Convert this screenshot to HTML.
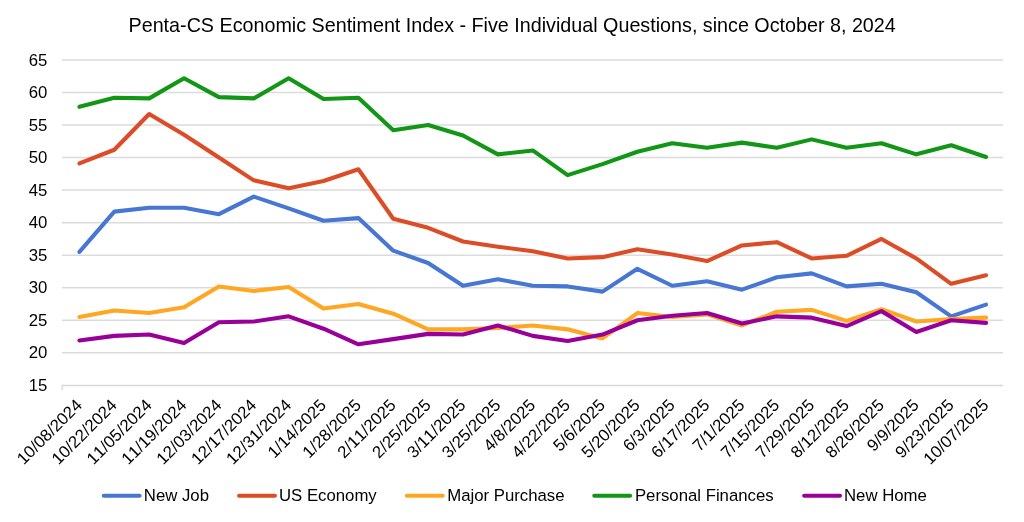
<!DOCTYPE html>
<html><head><meta charset="utf-8"><title>Penta-CS Economic Sentiment Index</title>
<style>html,body{margin:0;padding:0;background:#fff;overflow:hidden}svg{display:block;font-kerning:none}</style></head>
<body>
<svg width="1024" height="522" viewBox="0 0 1024 522" font-family="Liberation Sans, Arial, sans-serif" fill="#000">
<rect width="1024" height="522" fill="#fff"/>
<text x="512.15" y="32.4" font-size="19.73" text-anchor="middle">Penta-CS Economic Sentiment Index - Five Individual Questions, since October 8, 2024</text>
<line x1="62.0" x2="1003.1" y1="60.00" y2="60.00" stroke="#dbdbdb" stroke-width="1.5"/>
<text x="47.3" y="65.50" font-size="16.75" text-anchor="end">65</text>
<line x1="62.0" x2="1003.1" y1="92.53" y2="92.53" stroke="#dbdbdb" stroke-width="1.5"/>
<text x="47.3" y="98.03" font-size="16.75" text-anchor="end">60</text>
<line x1="62.0" x2="1003.1" y1="125.06" y2="125.06" stroke="#dbdbdb" stroke-width="1.5"/>
<text x="47.3" y="130.56" font-size="16.75" text-anchor="end">55</text>
<line x1="62.0" x2="1003.1" y1="157.59" y2="157.59" stroke="#dbdbdb" stroke-width="1.5"/>
<text x="47.3" y="163.09" font-size="16.75" text-anchor="end">50</text>
<line x1="62.0" x2="1003.1" y1="190.12" y2="190.12" stroke="#dbdbdb" stroke-width="1.5"/>
<text x="47.3" y="195.62" font-size="16.75" text-anchor="end">45</text>
<line x1="62.0" x2="1003.1" y1="222.65" y2="222.65" stroke="#dbdbdb" stroke-width="1.5"/>
<text x="47.3" y="228.15" font-size="16.75" text-anchor="end">40</text>
<line x1="62.0" x2="1003.1" y1="255.18" y2="255.18" stroke="#dbdbdb" stroke-width="1.5"/>
<text x="47.3" y="260.68" font-size="16.75" text-anchor="end">35</text>
<line x1="62.0" x2="1003.1" y1="287.71" y2="287.71" stroke="#dbdbdb" stroke-width="1.5"/>
<text x="47.3" y="293.21" font-size="16.75" text-anchor="end">30</text>
<line x1="62.0" x2="1003.1" y1="320.24" y2="320.24" stroke="#dbdbdb" stroke-width="1.5"/>
<text x="47.3" y="325.74" font-size="16.75" text-anchor="end">25</text>
<line x1="62.0" x2="1003.1" y1="352.77" y2="352.77" stroke="#dbdbdb" stroke-width="1.5"/>
<text x="47.3" y="358.27" font-size="16.75" text-anchor="end">20</text>
<line x1="62.0" x2="1003.1" y1="385.50" y2="385.50" stroke="#d6d6d6" stroke-width="1.5"/>
<line x1="62.1" x2="62.1" y1="384.75" y2="390.30" stroke="#dedede" stroke-width="1.5"/>
<text x="47.3" y="391.00" font-size="16.75" text-anchor="end">15</text>
<polyline points="79.44,251.93 114.31,211.59 149.18,207.69 184.05,207.69 218.92,214.19 253.79,196.63 288.66,208.34 323.53,220.70 358.40,218.10 393.27,250.63 428.14,262.99 463.01,285.76 497.88,279.25 532.75,285.76 567.62,286.41 602.49,291.61 637.36,268.84 672.23,285.76 707.10,281.20 741.97,289.66 776.84,277.30 811.71,273.40 846.58,286.41 881.45,283.81 916.32,292.26 951.19,316.34 986.06,304.63" fill="none" stroke="#4876d3" stroke-width="4.1" stroke-linejoin="round" stroke-linecap="round"/>
<polyline points="79.44,163.45 114.31,149.78 149.18,114.00 184.05,134.82 218.92,157.59 253.79,180.36 288.66,188.17 323.53,181.01 358.40,169.30 393.27,218.75 428.14,227.85 463.01,241.52 497.88,246.72 532.75,251.28 567.62,258.43 602.49,257.13 637.36,249.32 672.23,254.53 707.10,261.04 741.97,245.42 776.84,242.17 811.71,258.43 846.58,255.83 881.45,238.92 916.32,258.43 951.19,283.81 986.06,275.35" fill="none" stroke="#dc4c26" stroke-width="4.1" stroke-linejoin="round" stroke-linecap="round"/>
<polyline points="79.44,316.99 114.31,310.48 149.18,313.08 184.05,307.23 218.92,286.41 253.79,290.96 288.66,287.06 323.53,308.53 358.40,303.98 393.27,313.73 428.14,329.35 463.01,329.35 497.88,328.05 532.75,325.44 567.62,329.35 602.49,338.46 637.36,313.08 672.23,316.99 707.10,314.38 741.97,325.44 776.84,311.78 811.71,309.83 846.58,320.89 881.45,309.18 916.32,321.54 951.19,318.94 986.06,317.64" fill="none" stroke="#ffa623" stroke-width="4.1" stroke-linejoin="round" stroke-linecap="round"/>
<polyline points="79.44,106.84 114.31,97.73 149.18,98.39 184.05,78.22 218.92,97.08 253.79,98.39 288.66,78.22 323.53,99.04 358.40,97.73 393.27,130.26 428.14,125.06 463.01,135.47 497.88,154.34 532.75,150.43 567.62,175.16 602.49,164.10 637.36,151.73 672.23,143.28 707.10,147.83 741.97,142.63 776.84,147.83 811.71,139.37 846.58,147.83 881.45,143.28 916.32,154.34 951.19,145.23 986.06,156.94" fill="none" stroke="#129616" stroke-width="4.1" stroke-linejoin="round" stroke-linecap="round"/>
<polyline points="79.44,340.41 114.31,335.85 149.18,334.55 184.05,343.01 218.92,322.19 253.79,321.54 288.66,316.34 323.53,328.70 358.40,344.31 393.27,339.11 428.14,333.90 463.01,334.55 497.88,325.44 532.75,335.85 567.62,341.06 602.49,334.55 637.36,320.24 672.23,315.69 707.10,313.08 741.97,323.49 776.84,316.34 811.71,317.64 846.58,326.10 881.45,311.13 916.32,331.95 951.19,320.24 986.06,322.84" fill="none" stroke="#990099" stroke-width="4.1" stroke-linejoin="round" stroke-linecap="round"/>
<text transform="translate(83.04,406.2) rotate(-45)" font-size="16.75" text-anchor="end">10/08/2024</text>
<text transform="translate(117.91,406.2) rotate(-45)" font-size="16.75" text-anchor="end">10/22/2024</text>
<text transform="translate(152.78,406.2) rotate(-45)" font-size="16.75" text-anchor="end">11/05/2024</text>
<text transform="translate(187.65,406.2) rotate(-45)" font-size="16.75" text-anchor="end">11/19/2024</text>
<text transform="translate(222.52,406.2) rotate(-45)" font-size="16.75" text-anchor="end">12/03/2024</text>
<text transform="translate(257.39,406.2) rotate(-45)" font-size="16.75" text-anchor="end">12/17/2024</text>
<text transform="translate(292.26,406.2) rotate(-45)" font-size="16.75" text-anchor="end">12/31/2024</text>
<text transform="translate(327.13,406.2) rotate(-45)" font-size="16.75" text-anchor="end">1/14/2025</text>
<text transform="translate(362.00,406.2) rotate(-45)" font-size="16.75" text-anchor="end">1/28/2025</text>
<text transform="translate(396.87,406.2) rotate(-45)" font-size="16.75" text-anchor="end">2/11/2025</text>
<text transform="translate(431.74,406.2) rotate(-45)" font-size="16.75" text-anchor="end">2/25/2025</text>
<text transform="translate(466.61,406.2) rotate(-45)" font-size="16.75" text-anchor="end">3/11/2025</text>
<text transform="translate(501.48,406.2) rotate(-45)" font-size="16.75" text-anchor="end">3/25/2025</text>
<text transform="translate(536.35,406.2) rotate(-45)" font-size="16.75" text-anchor="end">4/8/2025</text>
<text transform="translate(571.22,406.2) rotate(-45)" font-size="16.75" text-anchor="end">4/22/2025</text>
<text transform="translate(606.09,406.2) rotate(-45)" font-size="16.75" text-anchor="end">5/6/2025</text>
<text transform="translate(640.96,406.2) rotate(-45)" font-size="16.75" text-anchor="end">5/20/2025</text>
<text transform="translate(675.83,406.2) rotate(-45)" font-size="16.75" text-anchor="end">6/3/2025</text>
<text transform="translate(710.70,406.2) rotate(-45)" font-size="16.75" text-anchor="end">6/17/2025</text>
<text transform="translate(745.57,406.2) rotate(-45)" font-size="16.75" text-anchor="end">7/1/2025</text>
<text transform="translate(780.44,406.2) rotate(-45)" font-size="16.75" text-anchor="end">7/15/2025</text>
<text transform="translate(815.31,406.2) rotate(-45)" font-size="16.75" text-anchor="end">7/29/2025</text>
<text transform="translate(850.18,406.2) rotate(-45)" font-size="16.75" text-anchor="end">8/12/2025</text>
<text transform="translate(885.05,406.2) rotate(-45)" font-size="16.75" text-anchor="end">8/26/2025</text>
<text transform="translate(919.92,406.2) rotate(-45)" font-size="16.75" text-anchor="end">9/9/2025</text>
<text transform="translate(954.79,406.2) rotate(-45)" font-size="16.75" text-anchor="end">9/23/2025</text>
<text transform="translate(989.66,406.2) rotate(-45)" font-size="16.75" text-anchor="end">10/07/2025</text>
<line x1="103.80000000000001" x2="139.60000000000002" y1="495.7" y2="495.7" stroke="#4876d3" stroke-width="4.1" stroke-linecap="round"/>
<text x="143.8" y="500.7" font-size="16.75">New Job</text>
<line x1="239.1" x2="274.9" y1="495.7" y2="495.7" stroke="#dc4c26" stroke-width="4.1" stroke-linecap="round"/>
<text x="279.0" y="500.7" font-size="16.75">US Economy</text>
<line x1="406.9" x2="442.7" y1="495.7" y2="495.7" stroke="#ffa623" stroke-width="4.1" stroke-linecap="round"/>
<text x="447.2" y="500.7" font-size="16.75">Major Purchase</text>
<line x1="594.3" x2="630.1" y1="495.7" y2="495.7" stroke="#129616" stroke-width="4.1" stroke-linecap="round"/>
<text x="634.9" y="500.7" font-size="16.75">Personal Finances</text>
<line x1="804.1999999999999" x2="840.0" y1="495.7" y2="495.7" stroke="#990099" stroke-width="4.1" stroke-linecap="round"/>
<text x="844" y="500.7" font-size="16.75">New Home</text>
</svg>
</body></html>
